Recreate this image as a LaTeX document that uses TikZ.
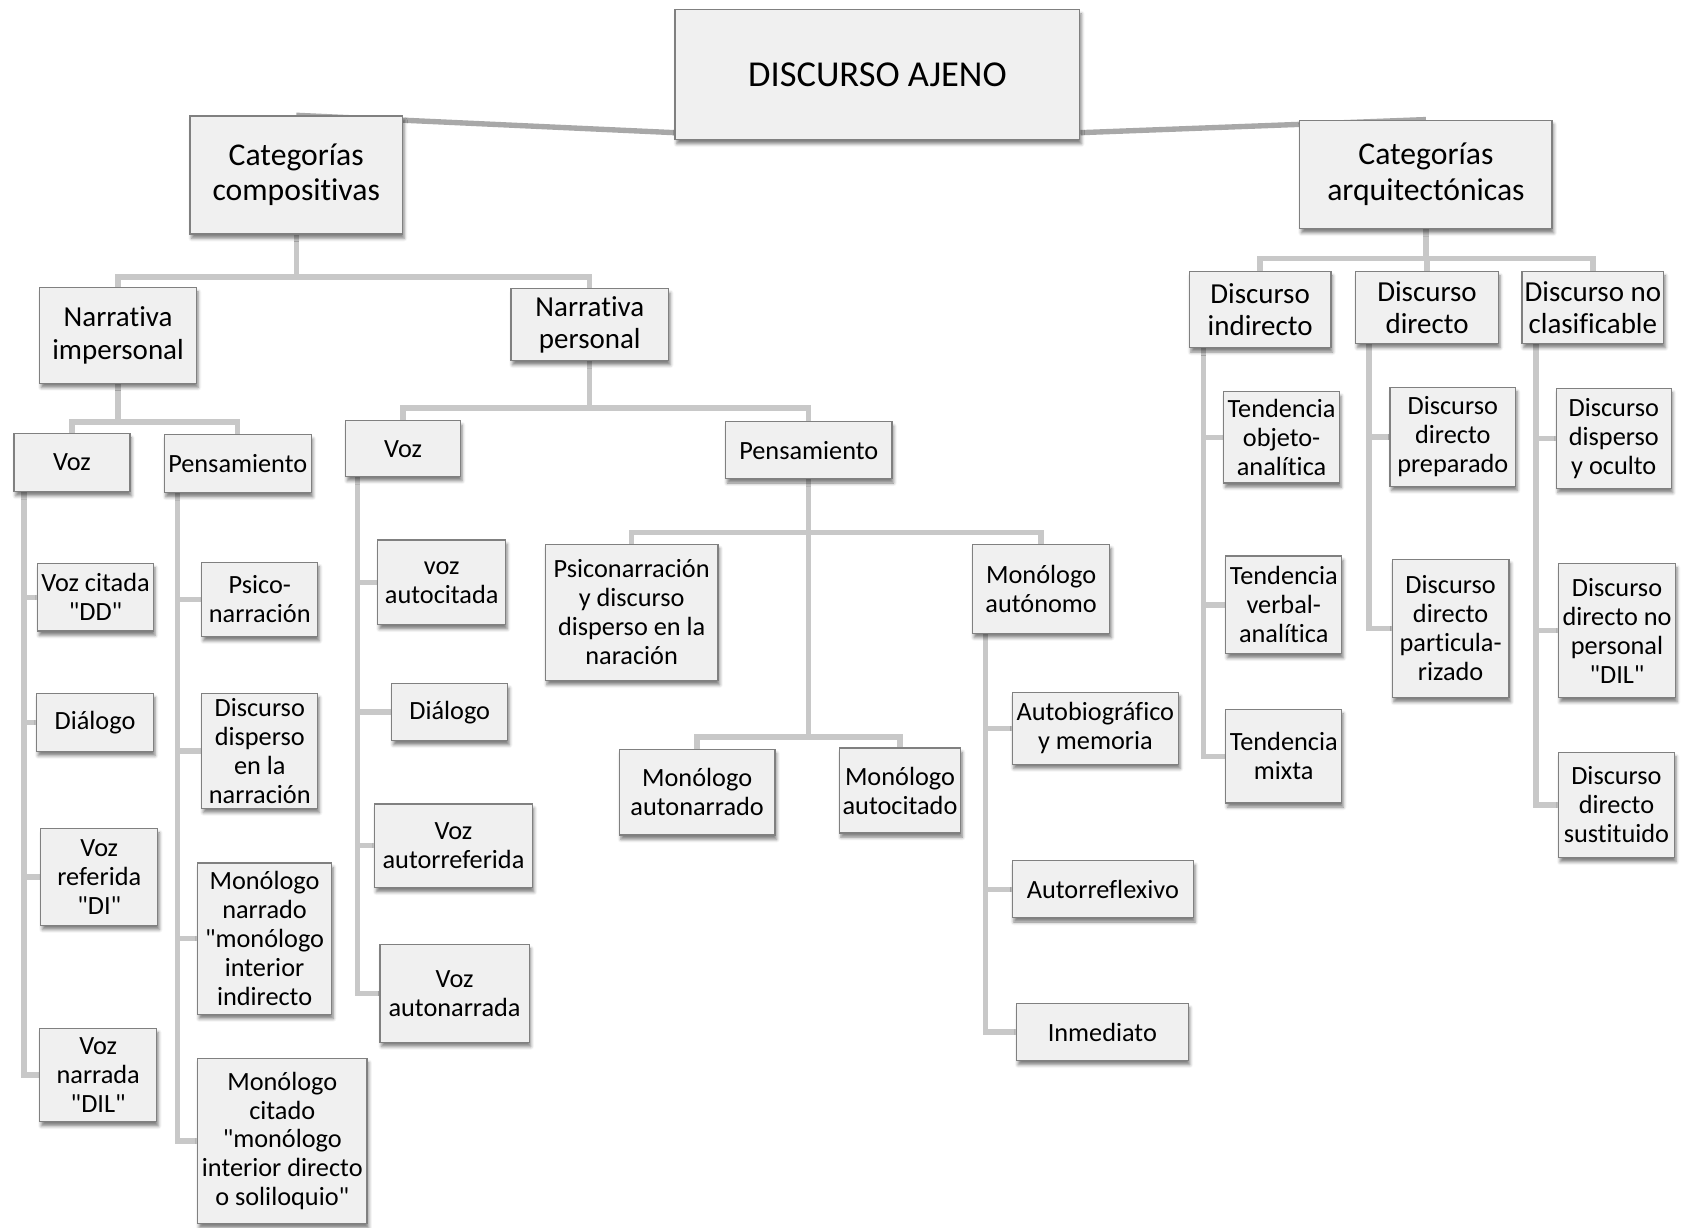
\documentclass[tikz,border=0pt]{standalone}
\usepackage{fontspec}
\setmainfont{Carlito}[Ligatures={TeXOff,NoCommon}]
\usetikzlibrary{shadows.blur,calc}
\pgfdeclarelayer{bg}
\pgfsetlayers{bg,main}
\definecolor{conncol}{HTML}{C8C8C8}
\definecolor{topcol}{HTML}{A8A8A8}
\definecolor{bord}{HTML}{808080}
\definecolor{boxfill}{HTML}{F0F0F0}
\newcommand\qd{\char34\relax}
\tikzset{
 box/.style={draw=bord, line width=1.2pt, fill=boxfill, inner sep=0pt, align=center,
   blur shadow={shadow xshift=1.5pt,shadow yshift=-4pt,shadow blur radius=3pt,shadow opacity=50}},
 fa/.style={font=\fontsize{24.5}{27}\selectfont},
 fb/.style={font=\fontsize{27}{30}\selectfont},
 fc/.style={font=\fontsize{29.5}{33}\selectfont},
 fd/.style={font=\fontsize{34}{38}\selectfont},
 cline/.style={draw=conncol,line width=5pt},
 tline/.style={draw=topcol,line width=5pt}
}
\newcommand\bx[7]{\node[box,#2,minimum width={(#5-#3)*1pt},minimum height={(#6-#4)*1pt}] (#1) at ({(#3+#5)/2},{(#4+#6)/2}) {#7};}
\begin{document}
\begin{tikzpicture}[x=1pt,y=-1pt]
\useasboundingbox (0,0) rectangle (1568,1144);
\bx{main}{fd}{629}{9}{1006}{130}{DISCURSO AJENO}
\bx{catcomp}{fc}{177}{108}{375}{218}{Categorías\\compositivas}
\bx{catarq}{fc}{1211}{112}{1446}{213}{Categorías\\arquitectónicas}
\bx{nimp}{fb}{37}{268}{183}{357}{Narrativa\\impersonal}
\bx{npers}{fb}{476}{269}{623}{336}{Narrativa\\personal}
\bx{vozA}{fa}{13}{404}{121}{458}{Voz}
\bx{penA}{fa}{153}{405}{290}{459}{Pensamiento}
\bx{vozB}{fa}{322}{392}{429}{444}{Voz}
\bx{penB}{fa}{676}{393}{831}{446}{Pensamiento}
\bx{vcit}{fa}{35}{525}{143}{588}{Voz citada\\\qd DD\qd}
\bx{dial}{fa}{34}{646}{143}{700}{Diálogo}
\bx{vref}{fa}{38}{772}{147}{862}{Voz\\referida\\\qd DI\qd}
\bx{vnar}{fa}{37}{958}{146}{1045}{Voz\\narrada\\\qd DIL\qd}
\bx{psico}{fa}{188}{524}{296}{593}{Psico-\\narración}
\bx{ddis}{fa}{188}{646}{296}{753}{Discurso\\disperso\\en la\\narración}
\bx{mnar}{fa}{184}{804}{309}{945}{Monólogo\\narrado\\\qd monólogo\\interior\\indirecto}
\bx{mcit}{fa}{184}{986}{342}{1140}{Monólogo\\citado\\\qd monólogo\\interior directo\\o soliloquio\qd}
\bx{vauto}{fa}{352}{503}{471}{582}{voz\\autocitada}
\bx{dialB}{fa}{365}{637}{473}{690}{Diálogo}
\bx{vautr}{fa}{349}{749}{496}{827}{Voz\\autorreferida}
\bx{vautn}{fa}{354}{880}{493}{971}{Voz\\autonarrada}
\bx{psicon}{fa}{508}{507}{669}{634}{Psiconarración\\y discurso\\disperso en la\\naración}
\bx{monaut}{fa}{906}{507}{1034}{590}{Monólogo\\autónomo}
\bx{monan}{fa}{577}{698}{722}{778}{Monólogo\\autonarrado}
\bx{monac}{fa}{782}{697}{895}{776}{Monólogo\\autocitado}
\bx{autob}{fa}{943}{645}{1098}{712}{Autobiográfico\\y memoria}
\bx{autor}{fa}{943}{802}{1112}{855}{Autorreflexivo}
\bx{inmed}{fa}{947}{935}{1107}{988}{Inmediato}
\bx{dind}{fb}{1108}{253}{1240}{324}{Discurso\\indirecto}
\bx{ddir}{fb}{1263}{253}{1396}{320}{Discurso\\directo}
\bx{dnoc}{fb}{1418}{253}{1550}{320}{Discurso no\\clasificable}
\bx{tobj}{fa}{1140}{365}{1248}{450}{Tendencia\\objeto-\\analítica}
\bx{tverb}{fa}{1142}{518}{1250}{609}{Tendencia\\verbal-\\analítica}
\bx{tmix}{fa}{1142}{661}{1250}{748}{Tendencia\\mixta}
\bx{dprep}{fa}{1295}{361}{1412}{453}{Discurso\\directo\\preparado}
\bx{dpart}{fa}{1297}{521}{1406}{650}{Discurso\\directo\\particula-\\rizado}
\bx{ddisp}{fa}{1450}{362}{1557}{455}{Discurso\\disperso\\y oculto}
\bx{dnop}{fa}{1452}{525}{1561}{650}{Discurso\\directo no\\personal\\\qd DIL\qd}
\bx{dsust}{fa}{1452}{701}{1560}{799}{Discurso\\directo\\sustituido}
\begin{pgfonlayer}{bg}
\draw[tline] ([yshift=7pt]main.south west) -- (catcomp.north);
\draw[tline] ([yshift=7pt]main.south east) -- (catarq.north);
\coordinate (b1) at (0,258);
\coordinate (b2) at (0,393);
\coordinate (b3) at (0,380);
\coordinate (b4) at (0,241);
\coordinate (bU) at (0,496);
\coordinate (bL) at (0,686.5);
\foreach \c in {nimp,npers} \draw[cline] (catcomp.south) |- (\c.north |- b1) -- (\c.north);
\foreach \c in {vozA,penA} \draw[cline] (nimp.south) |- (\c.north |- b2) -- (\c.north);
\foreach \c in {vozB,penB} \draw[cline] (npers.south) |- (\c.north |- b3) -- (\c.north);
\foreach \c in {dind,ddir,dnoc} \draw[cline] (catarq.south) |- (\c.north |- b4) -- (\c.north);
\foreach \c in {psicon,monaut} \draw[cline] (penB.south) |- (\c.north |- bU) -- (\c.north);
\foreach \c in {monan,monac} \draw[cline] (penB.south) |- (\c.north |- bL) -- (\c.north);
\coordinate (h1) at (22.5,0);
\coordinate (h2) at (165.5,0);
\coordinate (h3) at (333,0);
\coordinate (h4) at (918,0);
\coordinate (h5) at (1121,0);
\coordinate (h6) at (1275.5,0);
\coordinate (h7) at (1431,0);
\foreach \c in {vcit,dial,vref,vnar} \draw[cline] (vozA.south -| h1) |- (\c.west);
\foreach \c in {psico,ddis,mnar,mcit} \draw[cline] (penA.south -| h2) |- (\c.west);
\foreach \c in {vauto,dialB,vautr,vautn} \draw[cline] (vozB.south -| h3) |- (\c.west);
\foreach \c in {autob,autor,inmed} \draw[cline] (monaut.south -| h4) |- (\c.west);
\foreach \c in {tobj,tverb,tmix} \draw[cline] (dind.south -| h5) |- (\c.west);
\foreach \c in {dprep,dpart} \draw[cline] (ddir.south -| h6) |- (\c.west);
\foreach \c in {ddisp,dnop,dsust} \draw[cline] (dnoc.south -| h7) |- (\c.west);
\end{pgfonlayer}
\end{tikzpicture}
\end{document}
